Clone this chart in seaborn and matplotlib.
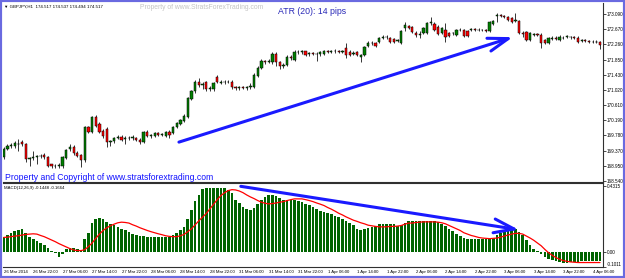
import numpy as np
import pandas as pd
import matplotlib
matplotlib.use('Agg')
import matplotlib.pyplot as plt
from matplotlib.patches import Rectangle
import seaborn as sns

# GBPJPY H1, first visible bar 26 Mar 2014 14:00
opens = [169.20, 169.42, 169.50, 169.49, 169.56, 169.60, 169.55, 169.14, 169.17, 169.20,
         169.23, 169.25, 169.20, 168.99, 168.94, 168.95, 168.94, 169.18, 169.40, 169.48,
         169.31, 169.25, 169.10, 170.01, 169.88, 170.28, 170.10, 169.90, 169.96, 169.60,
         169.62, 169.72, 169.75, 169.68, 169.70, 169.72, 169.72, 169.66, 169.61, 169.88,
         169.77, 169.77, 169.85, 169.80, 169.77, 169.88, 169.85, 170.01, 170.10, 170.18,
         170.28, 170.77, 170.98, 171.23, 171.15, 171.23, 171.04, 171.06, 171.38, 171.22,
         171.25, 171.23, 171.25, 171.09, 171.07, 171.09, 171.08, 171.10, 171.11, 171.40,
         171.63, 171.80, 171.78, 171.77, 172.01, 171.79, 171.66, 171.70, 171.93, 171.85,
         172.06, 172.05, 172.07, 171.99, 172.02, 172.01, 171.99, 171.99, 172.07, 172.05,
         172.07, 172.08, 172.06, 172.17, 172.05, 171.99, 172.05, 171.93, 171.98, 172.22,
         172.31, 172.31, 172.34, 172.45, 172.47, 172.44, 172.42, 172.36, 172.31, 172.70,
         172.77, 172.74, 172.58, 172.52, 172.58, 172.58, 172.84, 172.82, 172.74, 172.58,
         172.66, 172.58, 172.58, 172.52, 172.66, 172.66, 172.63, 172.65, 172.67, 172.65,
         172.66, 172.65, 172.63, 172.82, 173.03, 173.05, 173.03, 173.01, 172.98, 172.91,
         172.90, 172.58, 172.60, 172.39, 172.52, 172.54, 172.52, 172.39, 172.31, 172.42,
         172.44, 172.39, 172.45, 172.46, 172.47, 172.46, 172.45, 172.36, 172.37, 172.35,
         172.34, 172.34, 172.33]
highs = [169.47, 169.55, 169.58, 169.62, 169.69, 169.65, 169.58, 169.20, 169.37, 169.26,
         169.28, 169.30, 169.22, 169.00, 169.00, 169.02, 169.22, 169.42, 169.56, 169.52,
         169.35, 169.28, 170.05, 170.05, 170.32, 170.34, 170.14, 169.95, 170.00, 169.66,
         169.75, 169.80, 169.78, 169.76, 169.77, 169.78, 169.75, 169.70, 169.90, 169.92,
         169.83, 169.88, 169.88, 169.86, 169.91, 169.92, 170.04, 170.16, 170.24, 170.36,
         170.84, 171.02, 171.30, 171.34, 171.23, 171.26, 171.12, 171.24, 171.43, 171.30,
         171.28, 171.29, 171.28, 171.12, 171.13, 171.12, 171.14, 171.22, 171.48, 171.66,
         171.86, 171.85, 171.86, 172.05, 172.06, 171.82, 171.75, 171.96, 171.98, 172.10,
         172.10, 172.10, 172.09, 172.06, 172.05, 172.06, 172.08, 172.11, 172.10, 172.11,
         172.14, 172.11, 172.12, 172.30, 172.10, 172.08, 172.08, 172.00, 172.23, 172.35,
         172.36, 172.34, 172.47, 172.52, 172.51, 172.47, 172.45, 172.42, 172.66, 172.86,
         172.80, 172.77, 172.62, 172.63, 172.74, 172.88, 173.01, 172.86, 172.78, 172.74,
         172.85, 172.61, 172.61, 172.69, 172.70, 172.69, 172.66, 172.71, 172.70, 172.70,
         172.69, 172.68, 172.90, 172.94, 173.12, 173.09, 173.07, 173.04, 173.01, 173.12,
         172.93, 172.63, 172.63, 172.61, 172.58, 172.58, 172.58, 172.42, 172.47, 172.48,
         172.50, 172.52, 172.48, 172.52, 172.50, 172.48, 172.48, 172.40, 172.40, 172.38,
         172.37, 172.37, 172.36]
lows = [169.15, 169.38, 169.45, 169.45, 169.37, 169.50, 169.07, 168.96, 169.12, 169.01,
        169.17, 169.15, 168.93, 168.90, 168.90, 168.90, 168.90, 169.15, 169.36, 169.26,
        169.20, 168.93, 169.07, 169.85, 169.85, 170.00, 169.84, 169.72, 169.48, 169.50,
        169.58, 169.68, 169.62, 169.55, 169.66, 169.67, 169.62, 169.56, 169.58, 169.74,
        169.72, 169.73, 169.76, 169.77, 169.74, 169.70, 169.82, 169.98, 170.07, 170.15,
        170.25, 170.74, 170.95, 171.10, 171.05, 171.00, 170.98, 171.00, 171.20, 171.18,
        171.19, 171.20, 171.05, 171.02, 171.03, 171.05, 171.03, 171.05, 171.08, 171.37,
        171.60, 171.74, 171.75, 171.74, 171.66, 171.60, 171.62, 171.66, 171.84, 171.82,
        172.01, 172.01, 171.95, 171.95, 171.97, 171.80, 171.95, 171.96, 172.02, 172.02,
        172.04, 172.02, 172.03, 171.90, 171.95, 171.96, 171.94, 171.77, 171.95, 172.18,
        172.25, 172.18, 172.30, 172.42, 172.42, 172.30, 172.31, 172.33, 172.28, 172.62,
        172.68, 172.56, 172.47, 172.44, 172.55, 172.55, 172.80, 172.62, 172.52, 172.55,
        172.33, 172.46, 172.52, 172.49, 172.62, 172.46, 172.46, 172.62, 172.62, 172.62,
        172.62, 172.60, 172.60, 172.79, 172.88, 173.00, 172.98, 172.90, 172.85, 172.88,
        172.55, 172.47, 172.36, 172.36, 172.48, 172.48, 172.17, 172.28, 172.28, 172.39,
        172.39, 172.36, 172.40, 172.43, 172.42, 172.40, 172.31, 172.32, 172.33, 172.31,
        172.30, 172.29, 172.14]
closes = [169.42, 169.50, 169.52, 169.57, 169.54, 169.55, 169.14, 169.18, 169.20, 169.23,
          169.21, 169.20, 168.96, 168.94, 168.96, 168.97, 169.20, 169.39, 169.48, 169.30,
          169.23, 169.10, 170.01, 169.88, 170.28, 170.04, 169.88, 169.77, 169.60, 169.62,
          169.72, 169.74, 169.67, 169.70, 169.72, 169.73, 169.66, 169.61, 169.88, 169.77,
          169.78, 169.85, 169.80, 169.82, 169.88, 169.80, 170.01, 170.12, 170.20, 170.31,
          170.80, 170.98, 171.25, 171.15, 171.18, 171.04, 171.07, 171.20, 171.23, 171.25,
          171.23, 171.25, 171.09, 171.07, 171.09, 171.08, 171.10, 171.12, 171.44, 171.63,
          171.82, 171.78, 171.82, 172.01, 171.77, 171.66, 171.70, 171.93, 171.88, 172.06,
          172.05, 172.07, 171.98, 172.02, 172.01, 171.99, 172.05, 172.08, 172.05, 172.07,
          172.09, 172.06, 172.08, 171.96, 171.98, 172.03, 171.98, 171.98, 172.20, 172.31,
          172.29, 172.22, 172.44, 172.47, 172.46, 172.34, 172.34, 172.38, 172.62, 172.79,
          172.71, 172.60, 172.52, 172.55, 172.71, 172.85, 172.86, 172.66, 172.55, 172.71,
          172.47, 172.50, 172.56, 172.66, 172.65, 172.50, 172.50, 172.67, 172.65, 172.66,
          172.65, 172.63, 172.87, 172.90, 173.06, 173.04, 173.02, 172.93, 172.88, 172.93,
          172.58, 172.55, 172.39, 172.58, 172.54, 172.52, 172.31, 172.31, 172.44, 172.44,
          172.42, 172.47, 172.43, 172.48, 172.46, 172.44, 172.34, 172.37, 172.36, 172.34,
          172.33, 172.33, 172.25]

# MACD(12,26,9): histogram (main) and signal line
macd_main = [0.096, 0.112, 0.125, 0.134, 0.140, 0.147, 0.121, 0.099, 0.081, 0.068,
             0.059, 0.046, 0.026, 0.007, -0.011, -0.033, -0.018, 0.015, 0.024, 0.022,
             0.015, 0.011, 0.081, 0.125, 0.191, 0.217, 0.224, 0.215, 0.197, 0.184,
             0.173, 0.162, 0.151, 0.140, 0.129, 0.118, 0.110, 0.105, 0.101, 0.099,
             0.099, 0.096, 0.096, 0.096, 0.094, 0.094, 0.107, 0.125, 0.143, 0.164,
             0.217, 0.274, 0.333, 0.377, 0.414, 0.419, 0.421, 0.421, 0.421, 0.421,
             0.421, 0.410, 0.388, 0.344, 0.322, 0.296, 0.283, 0.276, 0.289, 0.318,
             0.344, 0.362, 0.373, 0.377, 0.366, 0.353, 0.344, 0.344, 0.340, 0.344,
             0.338, 0.329, 0.318, 0.307, 0.296, 0.283, 0.272, 0.263, 0.257, 0.248,
             0.237, 0.226, 0.215, 0.204, 0.191, 0.178, 0.147, 0.143, 0.151, 0.158,
             0.160, 0.169, 0.182, 0.184, 0.184, 0.184, 0.180, 0.169, 0.173, 0.191,
             0.200, 0.202, 0.202, 0.202, 0.204, 0.204, 0.202, 0.202, 0.195, 0.182,
             0.167, 0.149, 0.134, 0.118, 0.103, 0.092, 0.083, 0.081, 0.081, 0.081,
             0.081, 0.081, 0.086, 0.092, 0.112, 0.123, 0.132, 0.136, 0.143, 0.147,
             0.129, 0.107, 0.077, 0.044, 0.015, 0.002, -0.013, -0.033, -0.046, -0.055,
             -0.064, -0.070, -0.072, -0.072, -0.070, -0.068, -0.066, -0.064, -0.061, -0.061,
             -0.059, -0.059, -0.061]
macd_signal = [0.094, 0.096, 0.099, 0.103, 0.105, 0.110, 0.114, 0.116, 0.118, 0.116,
               0.107, 0.099, 0.088, 0.077, 0.066, 0.053, 0.042, 0.031, 0.020, 0.011,
               0.007, 0.007, 0.013, 0.033, 0.057, 0.088, 0.116, 0.140, 0.158, 0.171,
               0.182, 0.191, 0.195, 0.193, 0.189, 0.178, 0.169, 0.158, 0.149, 0.140,
               0.132, 0.125, 0.118, 0.112, 0.105, 0.101, 0.099, 0.099, 0.105, 0.114,
               0.132, 0.151, 0.178, 0.204, 0.228, 0.252, 0.283, 0.314, 0.344, 0.371,
               0.390, 0.404, 0.410, 0.408, 0.401, 0.390, 0.375, 0.362, 0.351, 0.338,
               0.327, 0.320, 0.316, 0.318, 0.322, 0.327, 0.331, 0.338, 0.344, 0.349,
               0.349, 0.349, 0.344, 0.338, 0.331, 0.322, 0.314, 0.305, 0.292, 0.281,
               0.268, 0.254, 0.243, 0.230, 0.219, 0.208, 0.200, 0.191, 0.184, 0.175,
               0.171, 0.167, 0.164, 0.164, 0.164, 0.167, 0.167, 0.169, 0.173, 0.182,
               0.189, 0.189, 0.193, 0.195, 0.197, 0.197, 0.197, 0.197, 0.195, 0.191,
               0.184, 0.173, 0.162, 0.151, 0.140, 0.125, 0.116, 0.107, 0.101, 0.094,
               0.090, 0.088, 0.086, 0.088, 0.090, 0.096, 0.103, 0.110, 0.116, 0.121,
               0.121, 0.116, 0.103, 0.090, 0.075, 0.057, 0.039, 0.015, -0.007, -0.024,
               -0.039, -0.050, -0.059, -0.064, -0.068, -0.070, -0.072, -0.072, -0.072, -0.072,
               -0.072, -0.072, -0.072]

date_labels = ['26 Mar 2014', '26 Mar 22:00', '27 Mar 06:00', '27 Mar 14:00', '27 Mar 22:00',
               '28 Mar 06:00', '28 Mar 14:00', '28 Mar 22:00', '31 Mar 06:00', '31 Mar 14:00',
               '31 Mar 22:00', '1 Apr 06:00', '1 Apr 14:00', '1 Apr 22:00', '2 Apr 06:00',
               '2 Apr 14:00', '2 Apr 22:00', '3 Apr 06:00', '3 Apr 14:00', '3 Apr 22:00',
               '4 Apr 06:00']
price_ticks = [173.090, 172.670, 172.260, 171.850, 171.430, 171.020,
               170.610, 170.190, 169.780, 169.370, 168.950, 168.540]
macd_ticks = [0.4315, 0.0, -0.1011]
macd_tick_labels = ['0.4315', '0.00', '-0.1011']

W, H = 625, 278
FONT = ['Liberation Sans', 'DejaVu Sans']


def fpos(x, y):
    return x / W, 1 - y / H


def main():
    sns.set_style('white')
    plt.rcParams['font.family'] = FONT

    n = len(closes)
    df = pd.DataFrame({'bar': np.arange(n), 'open': opens, 'high': highs,
                       'low': lows, 'close': closes,
                       'macd': macd_main, 'signal': macd_signal})
    up = df['close'] >= df['open']

    fig = plt.figure(figsize=(W / 100, H / 100), dpi=100)
    ax1 = fig.add_axes([3 / W, 1 - 182 / H, 600 / W, 179 / H])
    ax2 = fig.add_axes([3 / W, 1 - 267 / H, 600 / W, 84 / H])

    # candles
    ax1.vlines(df['bar'], df['low'], df['high'], color='black', lw=0.55, zorder=2)
    body_lo = np.minimum(df['open'], df['close'])
    body_h = np.abs(df['close'] - df['open'])
    ax1.bar(df['bar'], body_h, bottom=body_lo, width=0.62,
            color=np.where(up, '#008000', '#ff0000'), edgecolor='black',
            linewidth=0.35, zorder=3)

    # MACD
    sns.barplot(data=df, x='bar', y='macd', native_scale=True, color='#006400',
                saturation=1, width=0.72, errorbar=None, linewidth=0, ax=ax2)
    sns.lineplot(data=df, x='bar', y='signal', color='#ff0000', lw=0.9, ax=ax2)

    for ax in (ax1, ax2):
        ax.set_xlim(-0.2, n - 0.2)
        ax.set_xlabel('')
        ax.set_ylabel('')
        ax.yaxis.tick_right()
        ax.spines['left'].set_visible(False)
        for s in ('right', 'bottom', 'top'):
            ax.spines[s].set_color('#303030')
            ax.spines[s].set_linewidth(0.8)
        ax.tick_params(axis='y', length=2, width=0.5, pad=1, labelsize=3.3,
                       colors='black')

    ax1.spines['top'].set_visible(False)
    ax1.set_ylim(168.513, 173.39)
    ax1.set_yticks(price_ticks)
    ax1.set_yticklabels([f'{v:.3f}' for v in price_ticks])
    ax1.set_xticks([])

    ax2.set_ylim(-0.1015, 0.454)
    ax2.set_yticks(macd_ticks)
    ax2.set_yticklabels(macd_tick_labels)
    ax2.get_yticklabels()[2].set_va('bottom')
    ax2.set_xticks(np.arange(0, n, 8)[:len(date_labels)])
    ax2.set_xticklabels(date_labels, ha='left')
    ax2.tick_params(axis='x', length=1.5, width=0.5, pad=0.8, labelsize=3.1,
                    colors='black')

    # hand-drawn arrows
    ax1.annotate('', xy=(138.3, 172.46), xytext=(47.6, 169.60),
                 arrowprops=dict(arrowstyle='->,head_length=1.45,head_width=0.48',
                                 mutation_scale=10, color='#1a1aff', lw=2.2,
                                 shrinkA=0, shrinkB=0), zorder=5)
    ax2.annotate('', xy=(139.9, 0.145), xytext=(64.4, 0.432),
                 arrowprops=dict(arrowstyle='->,head_length=1.45,head_width=0.5',
                                 mutation_scale=10, color='#1a1aff', lw=2.2,
                                 shrinkA=0, shrinkB=0), zorder=5)

    # texts
    fig.text(*fpos(4, 6.5), '\u25bc GBPJPY,H1  174.517 174.537 174.494 174.517',
             fontsize=3.2, va='center', ha='left', color='black')
    fig.text(*fpos(140, 7.5), 'Property of www.StratsForexTrading.com',
             fontsize=4.9, va='center', ha='left', color='#c4c4c4')
    fig.text(*fpos(278, 11.5), 'ATR (20): 14 pips', fontsize=6.3,
             va='center', ha='left', color='#2a2ab8')
    fig.text(*fpos(5, 177), 'Property and Copyright of www.stratsforextrading.com',
             fontsize=6.2, va='center', ha='left', color='#1010ff')
    fig.text(*fpos(4, 187.5), 'MACD(12,26,9) -0.1448 -0.1664', fontsize=3.1,
             va='center', ha='left', color='black')

    fig.patches.append(Rectangle((0, 0), 1, 1, transform=fig.transFigure, fill=False,
                                 edgecolor='#6a6ae0', lw=3))

    fig.savefig('out.png', dpi=100)


if __name__ == '__main__':
    main()
